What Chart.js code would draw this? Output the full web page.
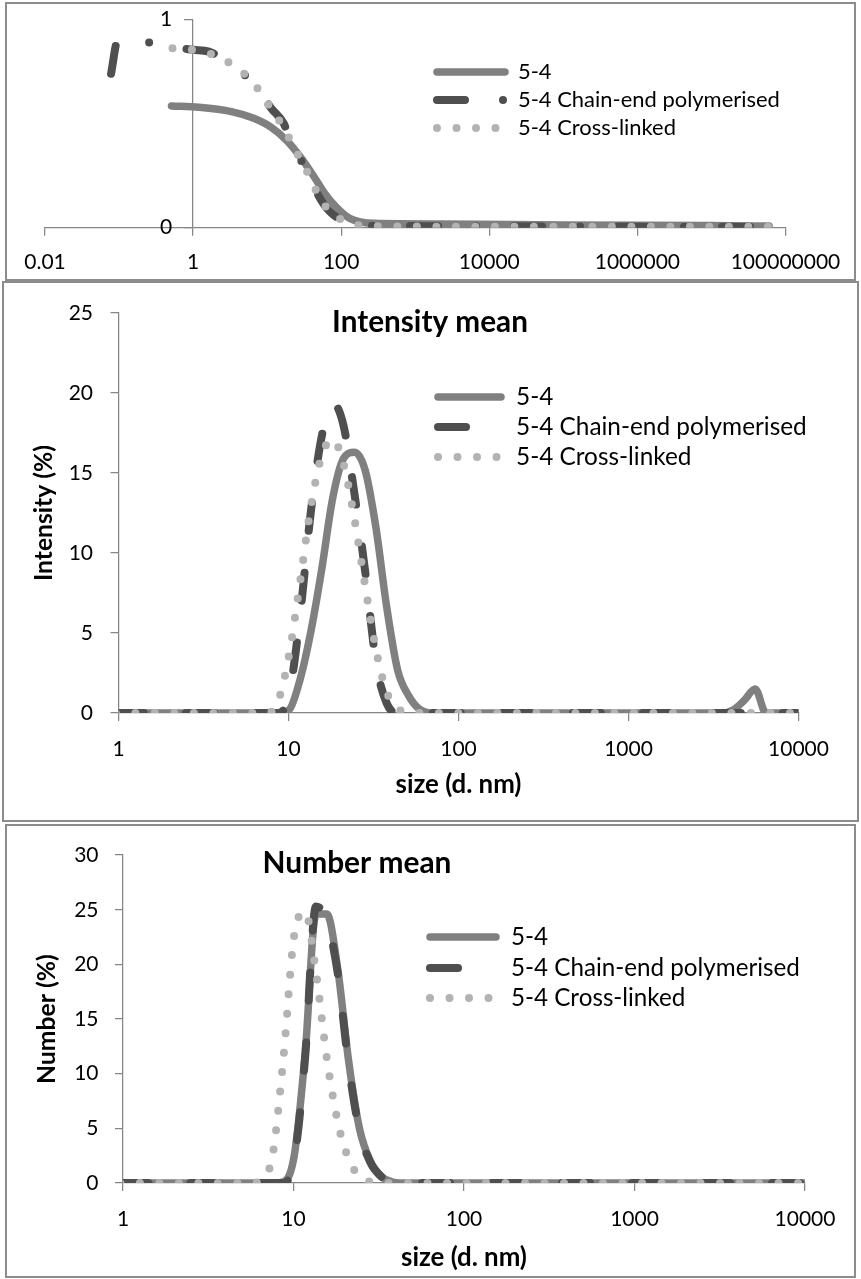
<!DOCTYPE html>
<html>
<head>
<meta charset="utf-8">
<script src="https://cdn.jsdelivr.net/npm/chart.js@4.4.1/dist/chart.umd.min.js"></script>
<style>
  html, body { margin: 0; padding: 0; background: #fff; }
  body { width: 861px; height: 1279px; position: relative; overflow: hidden; }
  .panel { position: absolute; box-sizing: border-box; border: 2px solid #8c8c8c; background: #fff; }
  .panel canvas { display: block; }
</style>
</head>
<body>
<div class="panel" style="left:5px;top:2px;width:851px;height:279px"><canvas id="topCanvas"></canvas></div>
<div class="panel" style="left:2px;top:281px;width:857px;height:541px"><canvas id="intensityCanvas"></canvas></div>
<div class="panel" style="left:5px;top:824px;width:851px;height:454px"><canvas id="numberCanvas"></canvas></div>
<script>
// DATA

const seriesNames = ["5-4", "5-4 Chain-end polymerised", "5-4 Cross-linked"];

// top panel: x ticks every two decades
const topTickValues = [0.01, 1, 100, 10000, 1000000, 100000000];

const topX54 = [0.51, 1.2, 3.3, 6.6, 11, 18.3, 28, 43, 60, 85, 130, 280, 2170, 100000, 10000000, 60000000];
const topY54 = [0.585, 0.579, 0.558, 0.526, 0.486, 0.42, 0.341, 0.245, 0.165, 0.1, 0.045, 0.021, 0.018, 0.013, 0.01, 0.008];

const topXChain = [0.078, 0.096, 0.15, 0.225, 0.33, 0.47, 1, 1.63, 2.6, 3.95, 5.1, 7.8, 11, 16.8, 21, 28, 41, 49, 69, 115, 217, 600, 3000, 100000, 3000000, 60000000];
const topYChain = [0.74, 0.9, 0.885, 0.89, 0.886, 0.87, 0.855, 0.846, 0.81, 0.766, 0.73, 0.67, 0.58, 0.5, 0.41, 0.33, 0.22, 0.157, 0.08, 0.029, 0.01, 0.008, 0.007, 0.006, 0.005, 0.005];

const topXCross = [0.527, 1, 2.2, 5.1, 7.6, 11, 15.5, 21, 28, 37.5, 49, 69, 115, 217, 600, 3000, 100000, 3000000, 60000000];
const topYCross = [0.862, 0.854, 0.82, 0.734, 0.665, 0.579, 0.5, 0.413, 0.329, 0.245, 0.157, 0.08, 0.029, 0.008, 0.006, 0.005, 0.005, 0.005, 0.005];

// size classes (d. nm) for the intensity and number panels
const sizeBins = [
  0.9649, 1.117, 1.294, 1.499, 1.736, 2.01, 2.328, 2.696, 3.122, 3.615,
  4.187, 4.849, 5.615, 6.503, 7.531, 8.721, 10.1, 11.7, 13.54, 15.69,
  18.17, 21.04, 24.36, 28.21, 32.67, 37.84, 43.82, 50.75, 58.77, 68.06,
  78.82, 91.28, 105.7, 122.4, 141.8, 164.2, 190.1, 220.2, 255, 295.3,
  342, 396.1, 458.7, 531.2, 615.1, 712.4, 825, 955.4, 1106, 1281,
  1484, 1718, 1990, 2305, 2669, 3091, 3580, 4145, 4801, 5560,
  6439, 7456, 8635, 10000,
];
const sizeTickValues = [1, 10, 100, 1000, 10000];

const intensity54 = [
  0, 0, 0, 0, 0, 0, 0, 0, 0, 0,
  0, 0, 0, 0, 0, 0, 0.2, 2.1, 5.1, 9.0,
  13.4, 15.9, 16.3, 15.2, 11.6, 6.6, 2.7, 1.1, 0.25, 0,
  0, 0, 0, 0, 0, 0, 0, 0, 0, 0,
  0, 0, 0, 0, 0, 0, 0, 0, 0, 0,
  0, 0, 0, 0, 0, 0, 0, 0.2, 0.8, 1.5,
  0, 0, 0, 0,
];
const intensityChain = [
  0, 0, 0, 0, 0, 0, 0, 0, 0, 0,
  0, 0, 0, 0, 0, 0, 1.2, 6.1, 12.6, 17.3,
  19.4, 18.0, 13.8, 8.9, 3.2, 0.6, 0, 0, 0, 0,
  0, 0, 0, 0, 0, 0, 0, 0, 0, 0,
  0, 0, 0, 0, 0, 0, 0, 0, 0, 0,
  0, 0, 0, 0, 0, 0, 0, 0, 0, 0,
  0, 0, 0, 0,
];
const intensityCross = [
  0, 0, 0, 0, 0, 0, 0, 0, 0, 0,
  0, 0, 0, 0, 0, 0.8, 3.7, 8.2, 12.9, 16.1,
  17.1, 15.6, 12.2, 8.0, 4.0, 1.3, 0.3, 0, 0, 0,
  0, 0, 0, 0, 0, 0, 0, 0, 0, 0,
  0, 0, 0, 0, 0, 0, 0, 0, 0, 0,
  0, 0, 0, 0, 0, 0, 0, 0, 0, 0,
  0, 0, 0, 0,
];

const number54 = [
  0, 0, 0, 0, 0, 0, 0, 0, 0, 0,
  0, 0, 0, 0, 0, 0.1, 2.5, 11.8, 24.6, 24.6,
  19.6, 11.2, 5.0, 2.0, 0.6, 0.1, 0, 0, 0, 0,
  0, 0, 0, 0, 0, 0, 0, 0, 0, 0,
  0, 0, 0, 0, 0, 0, 0, 0, 0, 0,
  0, 0, 0, 0, 0, 0, 0, 0, 0, 0,
  0, 0, 0, 0,
];
const numberChain = [
  0, 0, 0, 0, 0, 0, 0, 0, 0, 0,
  0, 0, 0, 0, 0, 0, 2.2, 11.5, 25.3, 24.0,
  19.2, 10.8, 4.8, 1.9, 0.6, 0.1, 0, 0, 0, 0,
  0, 0, 0, 0, 0, 0, 0, 0, 0, 0,
  0, 0, 0, 0, 0, 0, 0, 0, 0, 0,
  0, 0, 0, 0, 0, 0, 0, 0, 0, 0,
  0, 0, 0, 0,
];
const numberCross = [
  0, 0, 0, 0, 0, 0, 0, 0, 0, 0,
  0, 0, 0, 0.3, 2.5, 11.4, 22.7, 24.8, 19.3, 11.4,
  5.6, 2.2, 0.6, 0.1, 0, 0, 0, 0, 0, 0,
  0, 0, 0, 0, 0, 0, 0, 0, 0, 0,
  0, 0, 0, 0, 0, 0, 0, 0, 0, 0,
  0, 0, 0, 0, 0, 0, 0, 0, 0, 0,
  0, 0, 0, 0,
];

// STYLE

const FONT = "Lato, 'Noto Sans', sans-serif";
const AXIS_COLOR = "#868686";
const TICK_SIZE = 21;
const TICK_LEN = 8;
const seriesColors = ["#808080", "#4f4f4f", "#b3b3b3"];

Chart.defaults.font.family = FONT;
Chart.defaults.color = "#000";

const measureCtx = document.createElement("canvas").getContext("2d");
function fitFontSize(text, width, weight) {
  measureCtx.font = `${weight} 100px ${FONT}`;
  return (100 * width) / measureCtx.measureText(text).width;
}

/**
 * @param {number[][]} xs
 * @param {number[][]} ys
 * @param {number[]} chainDash
 */
function buildDatasets(xs, ys, chainDash) {
  const dashes = [[], chainDash, [0, 19.5]];
  const widths = [7.5, 8, 8];
  return seriesNames.map((label, i) => ({
    label,
    data: xs[i].map((x, j) => ({ x, y: ys[i][j] })),
    borderColor: seriesColors[i],
    borderWidth: widths[i],
    borderDash: dashes[i],
    borderCapStyle: "round",
    borderJoinStyle: "round",
    cubicInterpolationMode: "monotone",
    pointRadius: 0,
    fill: false,
    order: 3 - i,
  }));
}

const gridOpts = {
  display: true,
  drawOnChartArea: false,
  drawTicks: true,
  tickLength: TICK_LEN,
  color: AXIS_COLOR,
  lineWidth: 1.25,
};
const borderOpts = { display: true, color: AXIS_COLOR, width: 1.25 };

// legend and chart title drawn inside the plot, like the spreadsheet did
function panelDecor(origin, legend, title) {
  return {
    id: "panelDecor",
    afterDatasetsDraw(chart) {
      const ctx = chart.ctx;
      ctx.save();
      ctx.translate(-origin.x, -origin.y);
      if (title) {
        ctx.font = `bold ${title.size}px ${FONT}`;
        ctx.fillStyle = "#000";
        ctx.textAlign = "center";
        ctx.textBaseline = "middle";
        ctx.fillText(title.text, title.x, title.y);
      }
      chart.data.datasets.forEach((ds, i) => {
        const y = legend.rows[i];
        ctx.beginPath();
        ctx.lineWidth = ds.borderWidth;
        ctx.strokeStyle = ds.borderColor;
        ctx.lineCap = "round";
        ctx.setLineDash(ds.borderDash);
        ctx.moveTo(legend.x0, y);
        ctx.lineTo(legend.x1, y);
        ctx.stroke();
        ctx.setLineDash([]);
        ctx.font = `${legend.size}px ${FONT}`;
        ctx.fillStyle = "#000";
        ctx.textAlign = "left";
        ctx.textBaseline = "middle";
        ctx.fillText(ds.label, legend.textX, y);
      });
      ctx.restore();
    },
  };
}

// TOP PANEL

{
  const box = { left: 7, top: 4, width: 847, height: 275 };
  const area = { left: 45, right: 787, top: 19.5, bottom: 227.7 };
  const xLabelY = 262;
  const xAxisHeight = 50;
  const canvas = document.getElementById("topCanvas");
  canvas.width = box.width;
  canvas.height = box.height;

  new Chart(canvas, {
    type: "line",
    data: {
      datasets: buildDatasets([topX54, topXChain, topXCross], [topY54, topYChain, topYCross], [28, 38, 0, 38]),
    },
    options: {
      responsive: false,
      animation: false,
      events: [],
      layout: {
        padding: {
          left: area.left - box.left,
          right: box.left + box.width - area.right,
          top: area.top - box.top,
          bottom: box.top + box.height - area.bottom - xAxisHeight,
        },
      },
      plugins: { legend: { display: false }, tooltip: { enabled: false } },
      scales: {
        x: {
          type: "logarithmic",
          position: "bottom",
          min: 0.01,
          max: 100000000,
          afterBuildTicks: (scale) => {
            scale.ticks = topTickValues.map((value) => ({ value }));
          },
          afterFit: (scale) => {
            scale.height = xAxisHeight;
          },
          grid: gridOpts,
          border: borderOpts,
          ticks: {
            autoSkip: false,
            maxRotation: 0,
            padding: xLabelY - area.bottom - TICK_LEN - TICK_SIZE * 0.6,
            font: { size: TICK_SIZE },
            color: "#000",
            callback: (v) => String(v),
          },
        },
        y: {
          type: "linear",
          // axis crosses the x axis at 1, as in the original
          position: { x: 1 },
          min: 0,
          max: 1,
          grid: gridOpts,
          border: borderOpts,
          ticks: {
            stepSize: 1,
            font: { size: TICK_SIZE },
            color: "#000",
            // labels of an axis placed at a value get no padding, so add a gap
            callback: (v) => v + "\u2003\u2005",
          },
        },
      },
    },
    plugins: [
      panelDecor(
        { x: box.left, y: box.top },
        {
          x0: 437,
          x1: 505,
          textX: 518,
          rows: [72, 100, 128],
          size: fitFontSize(seriesNames[1], 262, "normal"),
        },
        null
      ),
    ],
  });
}

// SIZE PANELS

function sizeChart(canvasId, box, spec) {
  const canvas = document.getElementById(canvasId);
  canvas.width = box.width;
  canvas.height = box.height;
  const area = spec.area;
  const yTitleSize = fitFontSize(spec.yTitle, spec.yTitleWidth, "bold");
  const xTitleSize = fitFontSize("size (d. nm)", 126, "bold");
  const yScaleLeft = spec.yTitleX - yTitleSize * 0.6;
  const xScaleBottom = spec.xTitleY + xTitleSize * 0.6;

  return new Chart(canvas, {
    type: "line",
    data: {
      datasets: buildDatasets([sizeBins, sizeBins, sizeBins], spec.series, [28, 42]),
    },
    options: {
      responsive: false,
      animation: false,
      events: [],
      layout: {
        padding: {
          left: yScaleLeft - box.left,
          right: box.left + box.width - area.right,
          top: area.top - box.top,
          bottom: box.top + box.height - xScaleBottom,
        },
      },
      plugins: { legend: { display: false }, tooltip: { enabled: false } },
      scales: {
        x: {
          type: "logarithmic",
          position: "bottom",
          min: 1,
          max: 10000,
          afterBuildTicks: (scale) => {
            scale.ticks = sizeTickValues.map((value) => ({ value }));
          },
          afterFit: (scale) => {
            scale.height = xScaleBottom - area.bottom;
          },
          grid: gridOpts,
          border: borderOpts,
          ticks: {
            autoSkip: false,
            maxRotation: 0,
            padding: spec.xLabelY - area.bottom - TICK_LEN - TICK_SIZE * 0.6,
            font: { size: TICK_SIZE },
            color: "#000",
            callback: (v) => String(v),
          },
          title: {
            display: true,
            text: "size (d. nm)",
            font: { size: xTitleSize, weight: "bold" },
            color: "#000",
            padding: 0,
          },
        },
        y: {
          type: "linear",
          position: "left",
          min: 0,
          max: spec.yMax,
          afterFit: (scale) => {
            scale.width = area.left - yScaleLeft;
          },
          grid: gridOpts,
          border: borderOpts,
          ticks: {
            stepSize: 5,
            padding: area.left - TICK_LEN - spec.yLabelRight,
            font: { size: TICK_SIZE },
            color: "#000",
          },
          title: {
            display: true,
            text: spec.yTitle,
            font: { size: yTitleSize, weight: "bold" },
            color: "#000",
            padding: 0,
          },
        },
      },
    },
    plugins: [
      panelDecor(
        { x: box.left, y: box.top },
        { ...spec.legend, size: fitFontSize(seriesNames[1], spec.legend.width, "normal") },
        { ...spec.title, size: fitFontSize(spec.title.text, spec.title.width, "bold") }
      ),
    ],
  });
}

sizeChart("intensityCanvas", { left: 4, top: 283, width: 853, height: 537 }, {
  area: { left: 118.5, right: 798.5, top: 308, bottom: 713 },
  yMax: 25,
  yTitle: "Intensity (%)",
  yTitleWidth: 136,
  yTitleX: 44,
  yLabelRight: 93,
  xTitleY: 785,
  xLabelY: 749.5,
  series: [intensity54, intensityChain, intensityCross],
  title: { text: "Intensity mean", x: 430, y: 322, width: 196 },
  legend: { x0: 438, x1: 501, textX: 516, rows: [397, 427, 457], width: 291 },
});

sizeChart("numberCanvas", { left: 7, top: 826, width: 847, height: 450 }, {
  area: { left: 123, right: 805, top: 848, bottom: 1183 },
  yMax: 30,
  yTitle: "Number (%)",
  yTitleWidth: 130,
  yTitleX: 47,
  yLabelRight: 98.5,
  xTitleY: 1258,
  xLabelY: 1219.5,
  series: [number54, numberChain, numberCross],
  title: { text: "Number mean", x: 357, y: 863, width: 189 },
  legend: { x0: 430, x1: 496, textX: 511, rows: [937, 968, 998], width: 289 },
});
</script>
</body>
</html>
